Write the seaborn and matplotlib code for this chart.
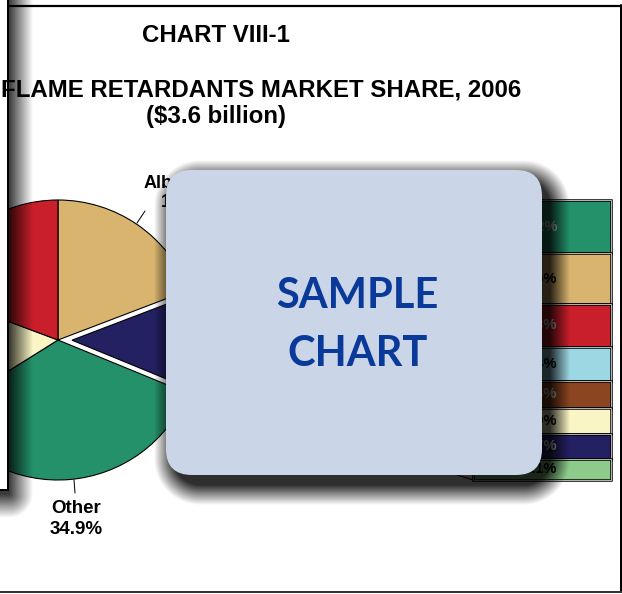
import numpy as np
import matplotlib
matplotlib.use("Agg")
import matplotlib.pyplot as plt
from matplotlib.patches import FancyBboxPatch, Rectangle
import seaborn as sns

# ---------------- data ----------------
title_lines = ["CHART VIII-1", "FLAME RETARDANTS MARKET SHARE, 2006", "($3.6 billion)"]

pie_names = ["Albemarle", "", "Other", "", ""]
pie_values = [19.2, 12.0, 34.9, 14.6, 19.3]
pie_colors = ["#D8B46F", "#242163", "#24916B", "#F9F5C4", "#C91F2A"]
pie_explode = [0, 0.1, 0, 0, 0]

legend_values = [10.2, 9.6, 8.3, 6.4, 5.3, 4.9, 4.7, 4.1]
legend_colors = ["#24916B", "#D8B46F", "#C91F2A", "#9DD7E4", "#8B4521",
                 "#F9F5C4", "#242163", "#8DCB8B"]
legend_text_colors = ["#E0E0E0", "black", "#E0E0E0", "black", "#E0E0E0",
                      "black", "#E0E0E0", "black"]

watermark = ["SAMPLE", "CHART"]

# ---------------- style ----------------
sns.set_theme(style="white")
plt.rcParams["font.family"] = ["Liberation Sans", "DejaVu Sans"]
plt.rcParams["text.color"] = "black"
palette = sns.color_palette(pie_colors)
leg_palette = sns.color_palette(legend_colors)

W, H = 622, 594
fig = plt.figure(figsize=(W / 100, H / 100), dpi=100)
fig.patch.set_facecolor("white")

# ---------------- pie ----------------
cx, cy, r = 58, 340, 140
ax_pie = fig.add_axes([(cx - r) / W, 1 - (cy + r) / H, 2 * r / W, 2 * r / H])
ax_pie.pie(pie_values, colors=palette, startangle=90, counterclock=False,
           explode=pie_explode, radius=1,
           wedgeprops=dict(edgecolor="black", linewidth=0.8))
ax_pie.set_xlim(-1, 1)
ax_pie.set_ylim(-1, 1)
ax_pie.set_zorder(1)

# ---------------- legend bar (bar of pie) ----------------
bx0, bx1, by0, by1 = 473, 611, 200, 480
ax_bar = fig.add_axes([bx0 / W, 1 - by1 / H, (bx1 - bx0) / W, (by1 - by0) / H])
total = sum(legend_values)
bottoms = np.concatenate([[0], np.cumsum(legend_values)[:-1]])
for v, b, c, tc in zip(legend_values, bottoms, leg_palette, legend_text_colors):
    ax_bar.bar(0, v, bottom=b, width=1, color=c, edgecolor="black",
               linewidth=1.8, clip_on=False)
    ax_bar.bar(0, v, bottom=b, width=1, color="none", edgecolor="white",
               linewidth=0.5, clip_on=False)
    ax_bar.text(0.11, b + v / 2, f"{v}%", ha="right", va="center",
                fontsize=10.5, fontweight="bold", color=tc)
ax_bar.set_xlim(-0.5, 0.5)
ax_bar.set_ylim(total, 0)
ax_bar.axis("off")
ax_bar.set_zorder(1)

# ---------------- overlay canvas in pixel units ----------------
ax = fig.add_axes([0, 0, 1, 1])
ax.set_xlim(0, W)
ax.set_ylim(H, 0)
ax.axis("off")
ax.set_zorder(5)
ax.patch.set_alpha(0)

def lw(px):
    return px * 0.72

# page frame
ax.plot([7, W], [6, 6], color="black", lw=lw(2.2), solid_capstyle="butt", zorder=1)
ax.plot([620.5, 620.5], [5, 592], color="black", lw=lw(2), zorder=1)
ax.plot([0, W], [592, 592], color="#333333", lw=lw(2), zorder=1)

# connectors from the exploded wedge to the bar
ang = np.cumsum([0] + pie_values) / sum(pie_values) * 360
a_start = np.radians(90 - ang[1])
a_end = np.radians(90 - ang[2])
a_mid = (a_start + a_end) / 2
ox, oy = cx + pie_explode[1] * r * np.cos(a_mid), cy - pie_explode[1] * r * np.sin(a_mid)
p_top = (ox + r * np.cos(a_start), oy - r * np.sin(a_start))
p_bot = (ox + r * np.cos(a_end), oy - r * np.sin(a_end))
ax.plot([p_top[0], bx0], [p_top[1], by0], color="black", lw=lw(1), zorder=1)
ax.plot([p_bot[0], bx0], [p_bot[1], by1], color="black", lw=lw(1), zorder=1)

# pie labels
ax.plot([137, 145], [223, 211], color="black", lw=lw(1), zorder=1)
ax.text(187, 193, f"{pie_names[0]}\n{pie_values[0]}%", ha="center", va="center",
        fontsize=13, fontweight="bold", linespacing=1.2, zorder=1)
ax.plot([74, 75], [480, 493], color="black", lw=lw(1), zorder=1)
ax.text(76, 519, f"{pie_names[2]}\n{pie_values[2]}%", ha="center", va="center",
        fontsize=13.5, fontweight="bold", linespacing=1.32, zorder=1)

# shadows
X, Y = np.meshgrid(np.arange(W) + 0.5, np.arange(H) + 0.5)

def shadow(x0, y0, x1, y1, blur, amax, rad=0.0, power=1.0):
    dx = np.maximum(np.maximum((x0 + rad) - X, X - (x1 - rad)), 0)
    dy = np.maximum(np.maximum((y0 + rad) - Y, Y - (y1 - rad)), 0)
    d = np.maximum(np.hypot(dx, dy) - rad, 0)
    t = np.clip(d / blur, 0, 1)
    img = np.zeros((H, W, 4))
    img[..., 3] = amax * (1 - t) ** power
    return img

# left page overlay with shadow
ax.imshow(shadow(-200, -200, 9, 494, 24, 0.78), extent=(0, W, H, 0),
          interpolation="bilinear", zorder=2, aspect="auto")
ax.add_patch(Rectangle((-20, -20), 27.5, 510, facecolor="white",
                       edgecolor="black", linewidth=lw(2), zorder=3))

# titles
ax.text(216, 42, title_lines[0], ha="center", va="baseline", fontsize=17.3,
        fontweight="bold", zorder=4)
ax.text(1, 97, title_lines[1], ha="left", va="baseline", fontsize=17.3,
        fontweight="bold", zorder=4)
ax.text(216, 123, title_lines[2], ha="center", va="baseline", fontsize=17.3,
        fontweight="bold", zorder=4)

# sample watermark box
bxl, bxr, byt, byb, rad = 166, 542, 170, 475, 26
ax.imshow(shadow(bxl + 8, byt + 10, bxr + 8, byb + 10, 20, 0.82, rad=rad),
          extent=(0, W, H, 0), interpolation="bilinear", zorder=6, aspect="auto")
ax.add_patch(FancyBboxPatch((bxl, byt), bxr - bxl, byb - byt,
                            boxstyle=f"round,pad=0,rounding_size={rad}",
                            facecolor="#CBD5E8", edgecolor="none", zorder=7))
ax.text(357, 296, watermark[0], ha="center", va="center", fontsize=30,
        fontweight="bold", family=["Lato", "DejaVu Sans"], color="#0A3A99", zorder=8)
ax.text(358, 354, watermark[1], ha="center", va="center", fontsize=30,
        fontweight="bold", family=["Lato", "DejaVu Sans"], color="#0A3A99", zorder=8)

fig.savefig("out.png", dpi=100)
